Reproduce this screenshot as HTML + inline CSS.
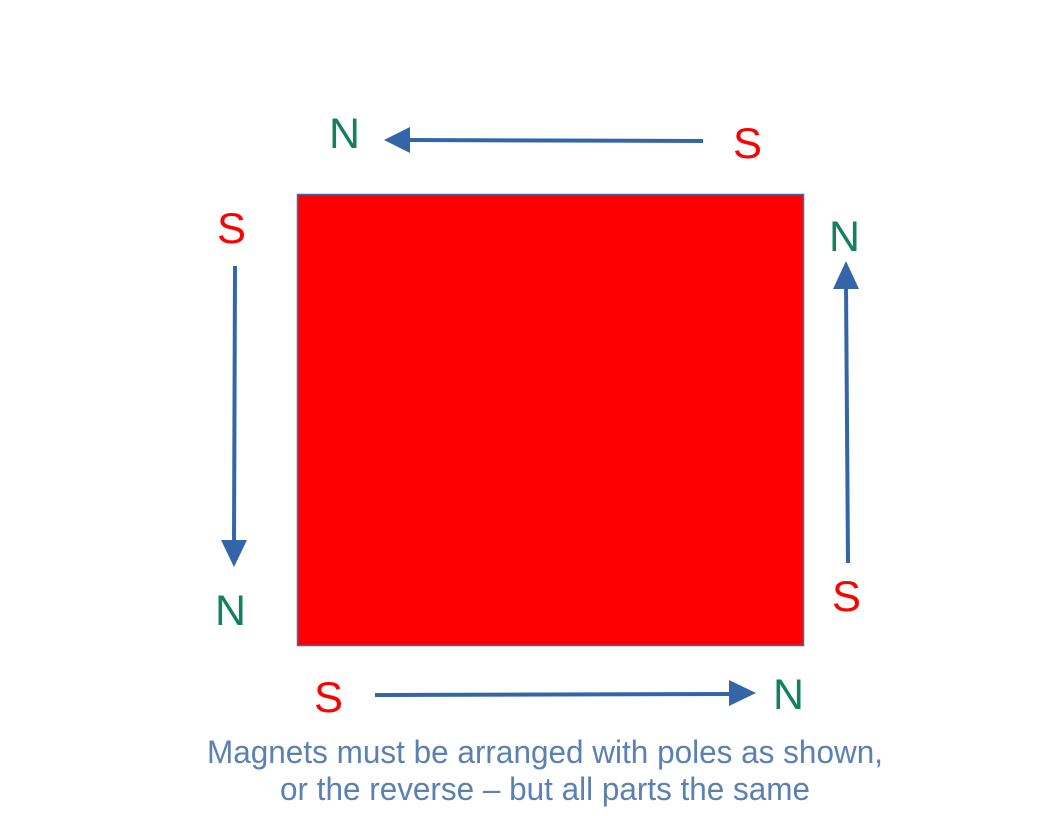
<!DOCTYPE html>
<html><head><style>html,body{margin:0;padding:0;background:#fff}svg{display:block}</style></head>
<body>
<svg width="1056" height="816" viewBox="0 0 1056 816" xmlns="http://www.w3.org/2000/svg" font-family="Liberation Sans, sans-serif">
<rect x="297.5" y="194.5" width="506" height="451" fill="#ff0000" stroke="#3a6ab0" stroke-width="1.5"/>
<g stroke="#3465a8" stroke-width="4" fill="none">
<line x1="703" y1="141" x2="405" y2="140"/>
<line x1="235" y1="266" x2="234" y2="545"/>
<line x1="848" y1="563" x2="846" y2="284"/>
<line x1="375" y1="695" x2="732" y2="694"/>
</g>
<g fill="#3465a8">
<polygon points="384,140 410,127 410,153"/>
<polygon points="234,567 221,540 247,540"/>
<polygon points="846,261 833,289 859,289"/>
<polygon points="756,693 729,680 729,706"/>
</g>
<g font-size="43">
<text x="329" y="148" fill="#138060" textLength="31" lengthAdjust="spacingAndGlyphs">N</text>
<text x="733" y="158" fill="#ff0000" textLength="29" lengthAdjust="spacingAndGlyphs">S</text>
<text x="217" y="243" fill="#ff0000" textLength="29" lengthAdjust="spacingAndGlyphs">S</text>
<text x="829" y="251" fill="#138060" textLength="31" lengthAdjust="spacingAndGlyphs">N</text>
<text x="215" y="625" fill="#138060" textLength="31" lengthAdjust="spacingAndGlyphs">N</text>
<text x="832" y="611" fill="#ff0000" textLength="29" lengthAdjust="spacingAndGlyphs">S</text>
<text x="314" y="712" fill="#ff0000" textLength="29" lengthAdjust="spacingAndGlyphs">S</text>
<text x="773" y="709" fill="#138060" textLength="31" lengthAdjust="spacingAndGlyphs">N</text>
</g>
<g font-size="32" fill="#5b80b2">
<text x="207" y="763" textLength="676" lengthAdjust="spacingAndGlyphs">Magnets must be arranged with poles as shown,</text>
<text x="280" y="800" textLength="530" lengthAdjust="spacingAndGlyphs">or the reverse – but all parts the same</text>
</g>
</svg>
</body></html>
